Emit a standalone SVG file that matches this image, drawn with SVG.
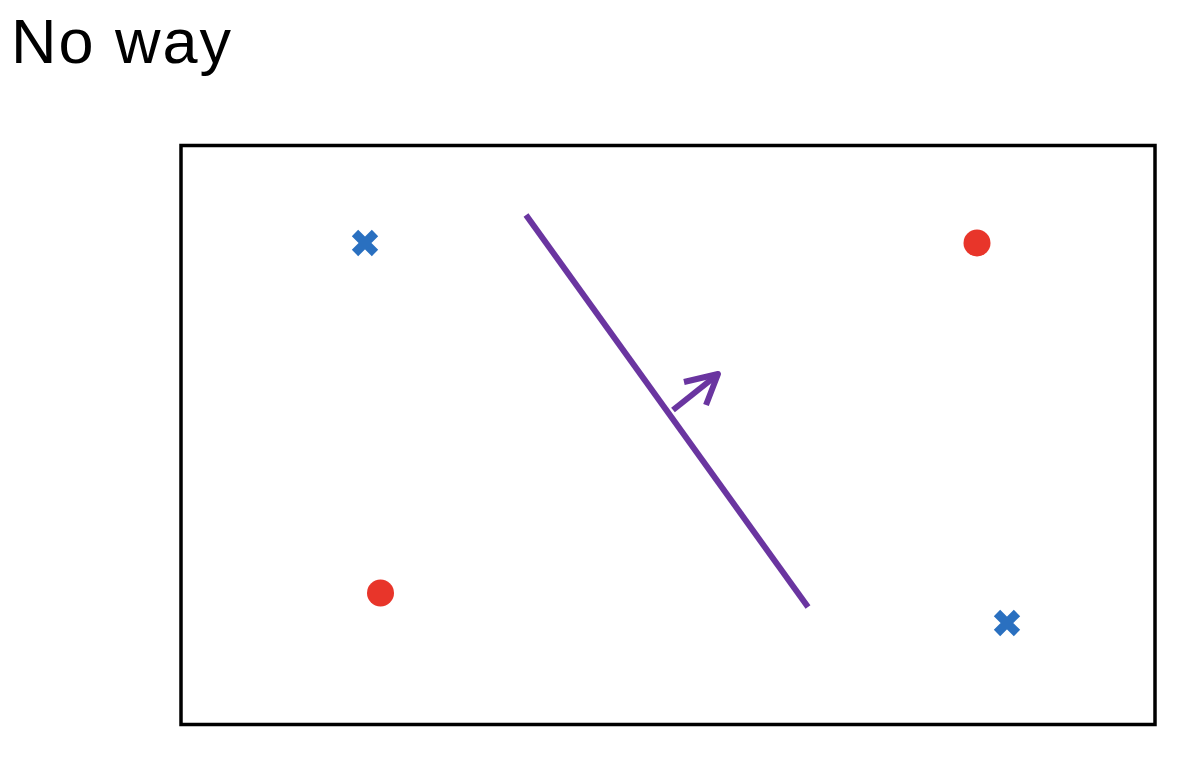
<svg xmlns="http://www.w3.org/2000/svg" width="1200" height="760" viewBox="0 0 1200 760">
<style>
.title{font-family:"Liberation Sans",Arial,sans-serif;font-size:63px;letter-spacing:2px;fill:#000}
.cross{stroke:#2a70c0;stroke-width:9;stroke-linecap:butt}
.dot{fill:#e8352a}
.sep{stroke:#6a35a0;stroke-width:6;fill:none;stroke-linecap:butt}
</style>
<rect width="1200" height="760" fill="#fff"/>
<text class="title" x="11" y="63">No way</text>
<rect id="frame" x="181" y="145.5" width="974" height="579" fill="none" stroke="#000" stroke-width="3.5"/>
<g id="x1"><path class="cross" d="M355,233 L375,253 M375,233 L355,253"/></g>
<g id="x2"><path class="cross" d="M997,613 L1017,633 M1017,613 L997,633"/></g>
<g id="o1"><circle class="dot" cx="977" cy="243" r="13.5"/></g>
<g id="o2"><circle class="dot" cx="380.5" cy="593" r="13.5"/></g>
<g id="connectors">
<path class="sep" d="M526,215 L808,607"/>
<path class="sep" d="M673,410 L717,375"/>
<path class="sep" stroke-linecap="round" stroke-linejoin="round" d="M684,382 L718,374 L706,405"/>
</g>
</svg>
